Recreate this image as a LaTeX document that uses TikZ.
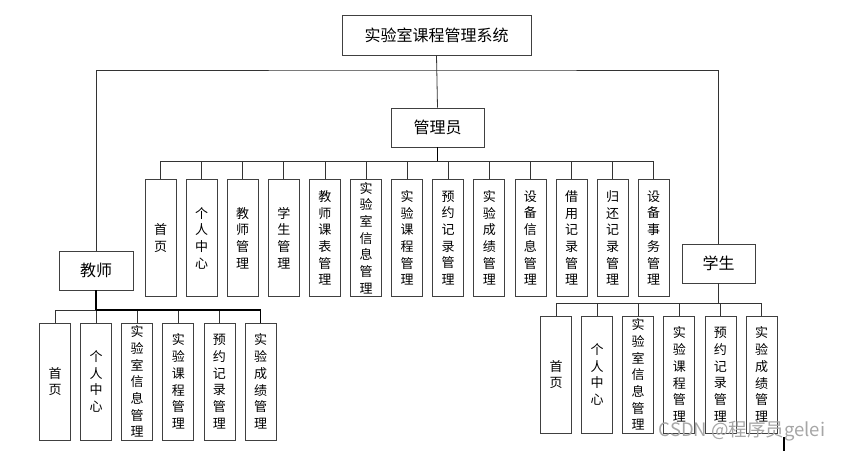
\documentclass[tikz,border=0pt]{standalone}
\usepackage{fontspec}
\setmainfont{Noto Sans CJK SC}
\begin{document}
\begin{tikzpicture}[x=1pt,y=-1pt,
  box/.style={draw=black!75,line width=0.8pt,fill=white,inner sep=0pt},
  topbox/.style={box,font=\fontsize{16}{18}\selectfont},
  leaf/.style={box,minimum width=31pt,minimum height=117pt,align=center,
    text width=20pt,font=\fontsize{13}{16.7}\selectfont},
  conn/.style={draw=black!80,line width=0.8pt},
  thick conn/.style={draw=black,line width=1.6pt}]
\useasboundingbox (0,0) rectangle (843,451);
% top level
\node[topbox,minimum width=189pt,minimum height=40pt] (sys) at (436.5,35) {实验室课程管理系统};
\node[topbox,minimum width=93pt,minimum height=39pt] (adm) at (437.5,127.5) {管理员};
\node[topbox,minimum width=74pt,minimum height=39pt] (tea) at (96,270.5) {教师};
\node[topbox,minimum width=73pt,minimum height=39pt] (stu) at (718.5,263.5) {学生};
\coordinate (hbar) at (437.5,70);
\coordinate (abus) at (437.5,161);
\coordinate (tbus) at (96,310);
\coordinate (sbus) at (718.5,303);
\draw[conn] (sys.south) -- (adm.north);
\draw[conn] (tea.north) |- (hbar) -| (stu.north);
\draw[thick conn,line width=1.2pt] (adm.south) -- (abus);
\draw[thick conn] (tea.south) -- (tbus);
\draw[conn] (stu.south) -- (sbus);
% admin leaves
\foreach \t [count=\i] in {{首\\页},{个\\人\\中\\心},{教\\师\\管\\理},{学\\生\\管\\理},{教\\师\\课\\表\\管\\理},{实\\验\\室\\信\\息\\管\\理},{实\\验\\课\\程\\管\\理},{预\\约\\记\\录\\管\\理},{实\\验\\成\\绩\\管\\理},{设\\备\\信\\息\\管\\理},{借\\用\\记\\录\\管\\理},{归\\还\\记\\录\\管\\理},{设\\备\\事\\务\\管\\理}}{
  \node[leaf] (a\i) at ({160.5+41.1*(\i-1)},238) {\t};
  \draw[conn] (a\i.north) |- (abus);
}
% teacher leaves
\foreach \t [count=\i] in {{首\\页},{个\\人\\中\\心},{实\\验\\室\\信\\息\\管\\理},{实\\验\\课\\程\\管\\理},{预\\约\\记\\录\\管\\理},{实\\验\\成\\绩\\管\\理}}{
  \node[leaf] (t\i) at ({55+41.1*(\i-1)},381.5) {\t};
  \draw[conn] (t\i.north) |- (tbus);
}
\draw[thick conn] (tbus) -| (t6.north);
% student leaves
\foreach \t [count=\i] in {{首\\页},{个\\人\\中\\心},{实\\验\\室\\信\\息\\管\\理},{实\\验\\课\\程\\管\\理},{预\\约\\记\\录\\管\\理},{实\\验\\成\\绩\\管\\理}}{
  \node[leaf] (s\i) at ({556+41.1*(\i-1)},374.5) {\t};
  \draw[conn] (s\i.north) |- (sbus);
}
% stray mark and watermark
\coordinate (m1) at (784,437);
\coordinate (m2) at (784,451);
\draw[thick conn] (m1) -- (m2);
\node[text=black!35,font=\fontsize{18.5}{20}\selectfont,inner sep=0pt] (wm) at (742,431) {CSDN @程序员gelei};
\end{tikzpicture}
\end{document}
